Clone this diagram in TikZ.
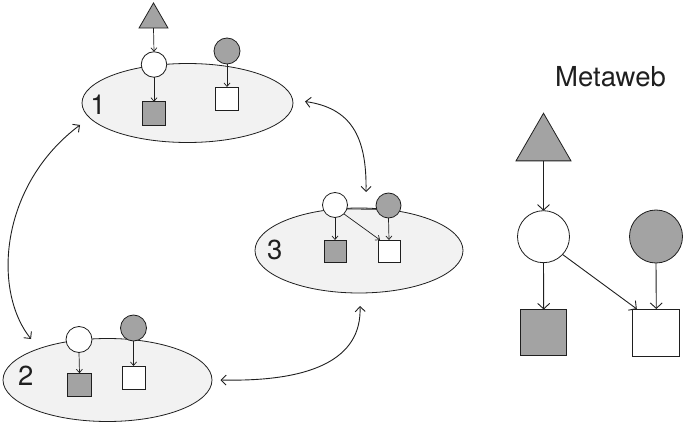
\documentclass[tikz,border=0pt]{standalone}
\usepackage{fontspec}
\setmainfont{TeX Gyre Heros}
\usetikzlibrary{arrows.meta,shapes.geometric}
\definecolor{shade}{gray}{0.64}
\definecolor{pond}{gray}{0.95}
\definecolor{ink}{gray}{0.12}
\begin{document}
\begin{tikzpicture}[x=1pt,y=-1pt,
  every node/.style={inner sep=0pt, outer sep=0pt},
  panel/.style={ellipse, draw=ink, fill=pond, line width=0.8pt},
  sp/.style={circle, draw=ink, line width=0.8pt, minimum size=#1},
  sq/.style={rectangle, draw=ink, line width=0.8pt, minimum size=#1},
  tri/.style={regular polygon, regular polygon sides=3, draw=ink, fill=shade, line width=0.8pt, minimum size=#1},
  tag/.style={font=\fontsize{27.5}{32}\selectfont, text=ink},
  feed/.style={draw=ink, line width=0.7pt, -{Straight Barb[length=3.5pt,width=6pt]}},
  bigfeed/.style={draw=ink, line width=0.9pt, -{Straight Barb[length=5.5pt,width=12pt]}},
  link/.style={draw=ink, line width=0.9pt, {Straight Barb[length=5pt,width=10pt]}-{Straight Barb[length=5pt,width=10pt]}}
]
\useasboundingbox (0,0) rectangle (686,425);

% ---------- local web 1 ----------
\node[panel, minimum width=211pt, minimum height=79pt] (e1) at (187.5,103) {};
\node[tag] (n1) at (98,104.7) {1};
\node[tri=33.5pt] (t1) at (153.5,19.7) {};
\node[sp=25.5pt, fill=white] (w1) at (154,64.5) {};
\node[sp=26pt, fill=shade] (g1) at (227,51) {};
\node[sq=23.5pt, fill=shade] (a1) at (154,113.5) {};
\node[sq=23pt, fill=white] (b1) at (227,98.5) {};
\draw[feed] (t1.south) -- (w1.north);
\draw[feed] (w1.south) -- (a1.north);
\draw[feed] (g1.south) -- (b1.north);

% ---------- local web 2 ----------
\node[panel, minimum width=209pt, minimum height=83pt] (e2) at (107.5,380) {};
\node[tag] (n2) at (25.8,375.7) {2};
\node[sp=26pt, fill=white] (w2) at (79,339.5) {};
\node[sp=26pt, fill=shade] (g2) at (133.5,328) {};
\node[sq=23.5pt, fill=shade] (a2) at (79.5,385) {};
\node[sq=23pt, fill=white] (b2) at (133.5,377.5) {};
\draw[feed] (w2.south) -- (a2.north);
\draw[feed] (g2.south) -- (b2.north);

% ---------- local web 3 ----------
\node[panel, minimum width=208pt, minimum height=85pt] (e3) at (359,250.5) {};
\node[tag] (n3) at (274.7,250) {3};
\node[sp=25pt, fill=white] (w3) at (335,205) {};
\node[sp=25pt, fill=shade] (g3) at (388.5,205.5) {};
\node[sq=22pt, fill=shade] (a3) at (335,251) {};
\node[sq=22pt, fill=white] (b3) at (389,251) {};
\draw[ink, line width=0.8pt] (w3.-18) -- (g3.198);
\draw[feed] (w3.south) -- (a3.north);
\draw[feed] (g3.south) -- (b3.north);
\draw[feed] (w3.-45) -- ([xshift=2pt]b3.north west);

% ---------- links between local webs ----------
\coordinate (l1a) at (80,125);
\coordinate (l2a) at (31,339);
\coordinate (l1b) at (305,101.5);
\coordinate (l3a) at (366,192);
\coordinate (l2b) at (220.5,380);
\coordinate (l3b) at (360,306);
\draw[link] (l1a) .. controls (0,185) and (-8,290) .. (l2a);
\draw[link] (l1b) .. controls (350,108) and (367,135) .. (l3a);
\draw[link] (l2b) .. controls (310,382) and (362,360) .. (l3b);

% ---------- metaweb ----------
\node[tag] (mw) at (610.5,77) {Metaweb};
\node[tri=63.5pt] (tm) at (543.5,145) {};
\node[sp=52pt, fill=white] (wm) at (543.5,236.7) {};
\node[sp=53pt, fill=shade] (gm) at (656,236.5) {};
\node[sq=46pt, fill=shade] (am) at (543.7,332.5) {};
\node[sq=47pt, fill=white] (bm) at (656.3,332.5) {};
\draw[bigfeed] (tm.south) -- (wm.north);
\draw[bigfeed] (wm.south) -- (am.north);
\draw[bigfeed] (gm.south) -- (bm.north);
\draw[bigfeed] (wm.-43) -- ([xshift=4pt]bm.north west);
\end{tikzpicture}
\end{document}
